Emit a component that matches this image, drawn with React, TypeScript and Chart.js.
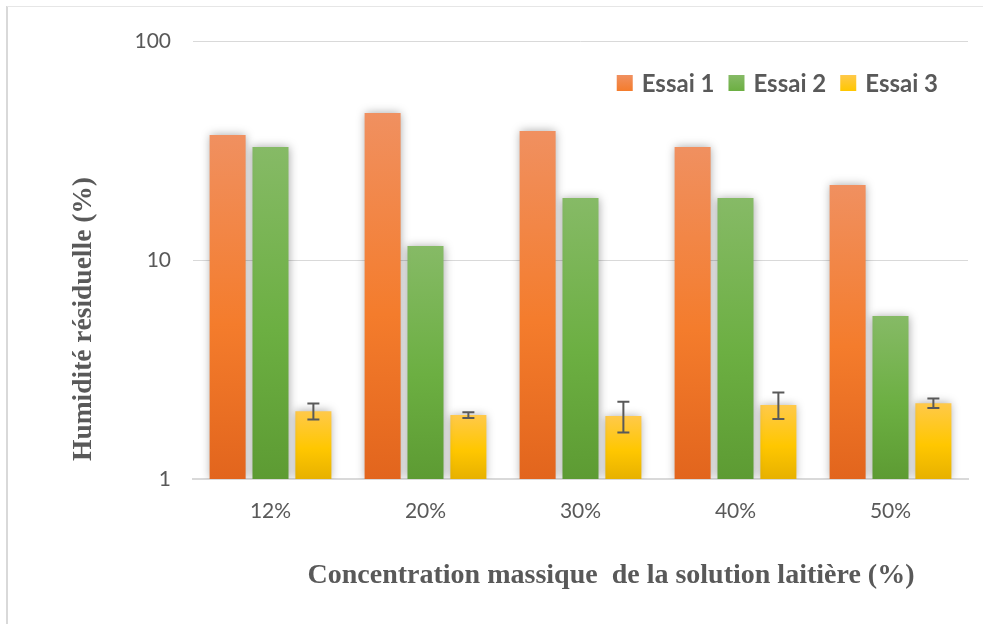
import React, { useEffect, useRef } from "react";
import { Chart, registerables } from "chart.js";

Chart.register(...registerables);

const categories = ["12%", "20%", "30%", "40%", "50%"];
const seriesNames = ["Essai 1", "Essai 2", "Essai 3"];
const essai1 = [37.2, 46.9, 38.8, 32.8, 22.0];
const essai2 = [32.8, 11.6, 19.2, 19.2, 5.55];
const essai3 = [2.04, 1.96, 1.94, 2.18, 2.22];
const essai3Err = [0.17, 0.06, 0.31, 0.3, 0.11];
const yTicks = [1, 10, 100];
const xTitle = "Concentration massique  de la solution laitière (%)";
const yTitle = "Humidité résiduelle (%)";

const gradStops: string[][] = [
  ["#F09060", "#F47C2C", "#E2651D"],
  ["#86BA66", "#6CAF42", "#5D9B33"],
  ["#FFC94A", "#FFC700", "#E7B100"],
];

const GRAY = "#595959";

function barGradient(stops: string[]) {
  return (ctx: any) => {
    const chart = ctx.chart;
    const area = chart.chartArea;
    if (!area || ctx.type !== "data") return stops[1];
    const ys = chart.scales.y;
    const top = ys.getPixelForValue(ctx.raw);
    const bottom = area.bottom;
    if (!isFinite(top) || bottom - top < 1) return stops[1];
    const g = chart.ctx.createLinearGradient(0, top, 0, bottom);
    g.addColorStop(0, stops[0]);
    g.addColorStop(0.55, stops[1]);
    g.addColorStop(1, stops[2]);
    return g;
  };
}

const framePlugin = {
  id: "frame",
  beforeDraw(chart: any) {
    const c = chart.ctx;
    c.save();
    c.fillStyle = "#ffffff";
    c.fillRect(0, 0, chart.width, chart.height);
    c.strokeStyle = "#d9d9d9";
    c.lineWidth = 2;
    c.beginPath();
    c.moveTo(7, chart.height);
    c.lineTo(7, 6);
    c.stroke();
    c.strokeStyle = "#e6e6e6";
    c.lineWidth = 1;
    c.beginPath();
    c.moveTo(7, 6.5);
    c.lineTo(chart.width, 6.5);
    c.stroke();
    c.restore();
  },
};

const shadowPlugin = {
  id: "barShadow",
  beforeDatasetsDraw(chart: any) {
    const c = chart.ctx;
    c.save();
    c.shadowColor = "rgba(0,0,0,0.35)";
    c.shadowBlur = 9;
    c.shadowOffsetX = 0;
    c.shadowOffsetY = 0;
  },
  afterDatasetsDraw(chart: any) {
    chart.ctx.restore();
  },
};

const errorBarPlugin = {
  id: "errorBars",
  afterDatasetsDraw(chart: any) {
    const meta = chart.getDatasetMeta(2);
    const ys = chart.scales.y;
    const c = chart.ctx;
    c.save();
    c.strokeStyle = GRAY;
    c.lineWidth = 2;
    meta.data.forEach((bar: any, i: number) => {
      const v = essai3[i];
      const e = essai3Err[i];
      const yTop = ys.getPixelForValue(v + e);
      const yBot = ys.getPixelForValue(v - e);
      const x = bar.x;
      const w = 6;
      c.beginPath();
      c.moveTo(x, yTop);
      c.lineTo(x, yBot);
      c.moveTo(x - w, yTop);
      c.lineTo(x + w, yTop);
      c.moveTo(x - w, yBot);
      c.lineTo(x + w, yBot);
      c.stroke();
    });
    c.restore();
  },
};

const legendPlugin = {
  id: "customLegend",
  afterDraw(chart: any) {
    const c = chart.ctx;
    const area = chart.chartArea;
    c.save();
    c.font = "bold 24px Lato";
    c.textBaseline = "middle";
    c.textAlign = "left";
    const box = 16;
    const gapBoxText = 9;
    const gapItem = 14;
    const widths = seriesNames.map((n) => c.measureText(n).width);
    const total =
      widths.reduce((a, b) => a + b, 0) +
      seriesNames.length * (box + gapBoxText) +
      (seriesNames.length - 1) * gapItem;
    let x = area.right - 30 - total;
    const yc = 83;
    seriesNames.forEach((name, i) => {
      const g = c.createLinearGradient(0, yc - box / 2, 0, yc + box / 2);
      g.addColorStop(0, gradStops[i][0]);
      g.addColorStop(1, gradStops[i][1]);
      c.fillStyle = g;
      c.fillRect(x, yc - box / 2, box, box);
      x += box + gapBoxText;
      c.fillStyle = GRAY;
      c.fillText(name, x, yc + 1);
      x += widths[i] + gapItem;
    });
    c.restore();
  },
};

const titlePlugin = {
  id: "axisTitles",
  afterDraw(chart: any) {
    const c = chart.ctx;
    c.save();
    c.fillStyle = GRAY;
    c.font = "bold 28px 'Liberation Serif'";
    c.textAlign = "center";
    c.textBaseline = "middle";
    c.fillText(xTitle, 611, 576, 608);
    c.translate(84, 319);
    c.rotate(-Math.PI / 2);
    c.fillText(yTitle, 0, 0, 284);
    c.restore();
  },
};

export default function App() {
  const ref = useRef<HTMLCanvasElement | null>(null);
  useEffect(() => {
    if (!ref.current) return;
    const data = [essai1, essai2, essai3];
    const chart = new Chart(ref.current, {
      type: "bar",
      data: {
        labels: categories,
        datasets: data.map((d, i) => ({
          label: seriesNames[i],
          data: d,
          backgroundColor: barGradient(gradStops[i]),
          borderWidth: 0,
          categoryPercentage: 0.83,
          barPercentage: 0.84,
        })),
      },
      options: {
        animation: false,
        responsive: false,
        devicePixelRatio: 1,
        layout: { padding: { left: 0, top: 41, right: 15, bottom: 0 } },
        plugins: {
          legend: { display: false },
          tooltip: { enabled: false },
          title: { display: false },
        },
        scales: {
          x: {
            grid: { display: false, drawTicks: false },
            border: { display: true, color: "#d9d9d9", width: 2 },
            ticks: {
              color: GRAY,
              font: { family: "Lato", size: 21 },
              padding: 20,
            },
            afterFit(s: any) {
              s.height = 145;
            },
          },
          y: {
            type: "logarithmic",
            min: 1,
            max: 100,
            grid: { color: "#d9d9d9", lineWidth: 1, drawTicks: false },
            border: { display: false },
            afterBuildTicks(s: any) {
              s.ticks = yTicks.map((v) => ({ value: v }));
            },
            ticks: {
              color: GRAY,
              font: { family: "Lato", size: 21 },
              padding: 22,
              callback: (v: any) => String(v),
            },
            afterFit(s: any) {
              s.width = 193;
            },
          },
        },
      },
      plugins: [framePlugin, shadowPlugin, errorBarPlugin, legendPlugin, titlePlugin],
    });
    return () => chart.destroy();
  }, []);
  return (
    <div style={{ position: "fixed", left: 0, top: 0, width: 983, height: 624 }}>
      <canvas ref={ref} width={983} height={624} />
    </div>
  );
}
